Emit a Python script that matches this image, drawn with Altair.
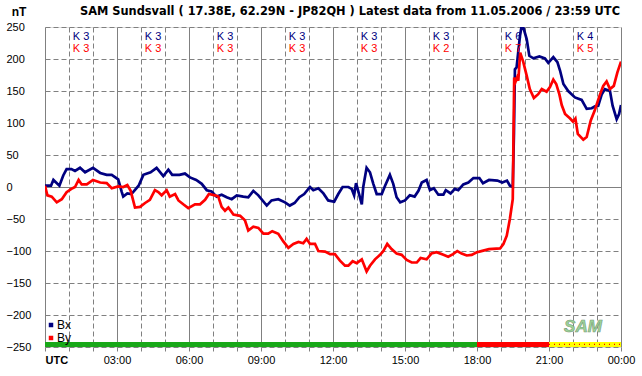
import altair as alt
import pandas as pd

FONT = "Liberation Sans"
TITLE_FONT = "DejaVu Sans"

title_text = "SAM Sundsvall ( 17.38E, 62.29N - JP82QH ) Latest data from 11.05.2006 / 23:59 UTC"
unit_label = "nT"

bx_hours = [0.0, 0.25, 0.35, 0.6, 0.76, 0.9, 1.1, 1.25, 1.46, 1.67, 2.0, 2.3, 2.57, 2.78,
            3.05, 3.2, 3.26, 3.43, 3.6, 3.9, 4.1, 4.4, 4.65, 4.93, 5.14, 5.3, 5.6, 5.83,
            6.04, 6.3, 6.53, 6.74, 6.94, 7.15, 7.36, 7.57, 7.78, 7.99, 8.26, 8.47, 8.68,
            8.89, 9.24, 9.44, 9.72, 10.0, 10.2, 10.4, 10.6, 10.8, 11.04, 11.18, 11.39,
            11.6, 11.8, 12.05, 12.22, 12.4, 12.64, 12.78, 12.88, 12.96, 13.05, 13.2,
            13.26, 13.4, 13.54, 13.68, 13.82, 14.03, 14.17, 14.37, 14.51, 14.65, 14.8,
            15.0, 15.2, 15.4, 15.56, 15.7, 15.9, 16.04, 16.2, 16.39, 16.6, 16.7, 16.9,
            17.08, 17.22, 17.43, 17.64, 17.85, 18.1, 18.25, 18.5, 18.85, 19.05, 19.25,
            19.37, 19.49, 19.54, 19.58, 19.65, 19.79, 19.88, 20.07, 20.18, 20.35, 20.6,
            20.83, 20.97, 21.18, 21.35, 21.46, 21.6, 21.8, 22.08, 22.36, 22.57, 22.78,
            22.92, 23.05, 23.2, 23.33, 23.54, 23.65, 23.82, 23.92, 24.0]
bx_values = [2, 2, 11, 2, 18, 28, 28, 25, 30, 23, 30, 22, 19, 19,
             12, -8, -15, -10, -11, 2, 19, 23, 30, 17, 27, 19, 19, 21,
             15, 11, 5, -5, -7, -15, -12, -16, -19, -13, -15, -16, -6,
             -13, -29, -21, -19, -24, -29, -25, -16, -11, 0, -5, -2,
             -10, -21, -23, -11, 0, 0, -3, -13, 6, -6, -27,
             0, 30, 23, 5, -11, -11, 2, 19, 5, -16, -24,
             -21, -13, -15, -6, 7, 11, -5, -2, -12, -12, -5, -10,
             -3, -5, 4, 7, 14, 14, 6, 11, 10, 7, 10,
             2, 0, 85, 184, 187, 236, 256, 231, 205, 201, 204,
             201, 194, 203, 195, 182, 161, 150, 140, 136, 122, 123,
             126, 127, 145, 153, 150, 127, 106, 114, 128]

by_hours = [0.0, 0.1, 0.28, 0.49, 0.7, 0.9, 1.1, 1.25, 1.4, 1.53, 1.74, 2.0, 2.3, 2.57,
            2.78, 3.05, 3.26, 3.43, 3.57, 3.75, 3.96, 4.17, 4.37, 4.58, 4.72, 4.86,
            5.07, 5.2, 5.42, 5.56, 5.76, 5.97, 6.25, 6.46, 6.67, 6.83, 7.08, 7.22,
            7.36, 7.5, 7.64, 7.85, 8.13, 8.33, 8.47, 8.68, 8.89, 9.1, 9.3, 9.47, 9.72,
            9.93, 10.14, 10.35, 10.56, 10.76, 10.9, 11.04, 11.25, 11.39, 11.67, 11.88,
            12.08, 12.29, 12.5, 12.64, 12.82, 12.99, 13.2, 13.4, 13.54, 13.75, 13.96,
            14.1, 14.26, 14.44, 14.65, 14.86, 15.07, 15.28, 15.49, 15.65, 15.9, 16.1,
            16.32, 16.6, 16.8, 17.0, 17.18, 17.36, 17.57, 17.78, 17.99, 18.1, 18.5,
            18.96, 19.1, 19.24, 19.37, 19.49, 19.51, 19.55, 19.6, 19.67, 19.72, 19.8,
            19.93, 20.07, 20.2, 20.37, 20.55, 20.7, 20.9, 21.04, 21.18, 21.3, 21.43,
            21.53, 21.67, 21.88, 22.0, 22.1, 22.2, 22.43, 22.57, 22.74, 22.9, 23.1,
            23.26, 23.4, 23.54, 23.7, 23.85, 24.0]
by_values = [2, -13, -15, -24, -19, -8, -3, 0, 11, 4, 4, 11, 7, 6,
             -2, 1, 0, 3, -6, -32, -31, -25, -20, -5, -8, -13,
             -5, -15, -11, -21, -27, -33, -27, -27, -20, -11, -13, -15,
             -31, -37, -32, -43, -45, -52, -68, -62, -64, -73, -73, -69, -73,
             -85, -95, -89, -86, -88, -81, -89, -89, -100, -101, -105,
             -105, -115, -123, -123, -116, -119, -113, -132, -123, -113, -106,
             -100, -89, -97, -104, -106, -114, -118, -118, -111, -113, -104,
             -102, -106, -109, -105, -100, -104, -107, -106, -102, -101, -97,
             -96, -89, -76, -50, -19, 44, 171, 164, 171, 166, 210,
             195, 174, 153, 139, 145, 153, 149, 156, 168, 161, 145,
             128, 114, 107, 102, 107, 83, 74, 78, 104, 119, 142,
             158, 165, 153, 158, 179, 196]

series_names = ["Bx", "By"]
series_colors = ["#000080", "#ff0000"]

k_centers = [1.5, 4.5, 7.5, 10.5, 13.5, 16.5, 19.5, 22.5]
k_bx = [3, 3, 3, 3, 3, 3, 6, 4]
k_by = [3, 3, 3, 3, 3, 2, 7, 5]

status_start = [0, 18, 21]
status_end = [18, 21, 24]
status_fill = ["#18a818", "#ff0000", "#ffff00"]

lines_df = pd.concat([
    pd.DataFrame({"hour": bx_hours, "value": bx_values, "series": "Bx", "order": 0}),
    pd.DataFrame({"hour": by_hours, "value": by_values, "series": "By", "order": 1}),
], ignore_index=True)

k_df = pd.DataFrame({
    "hour": k_centers,
    "kx": ["K " + str(v) for v in k_bx],
    "ky": ["K " + str(v) for v in k_by],
})

status_df = pd.DataFrame({"start": status_start, "end": status_end, "fill": status_fill,
                          "low": -250, "high": -242})

x_scale = alt.Scale(domain=[0, 24], nice=False, zero=False)
y_scale = alt.Scale(domain=[-250, 250], nice=False, zero=False)

x_axis = alt.Axis(
    values=list(range(25)),
    title=None,
    labelExpr="datum.value == 0 ? 'UTC' : (datum.value % 3 == 0 ? (datum.value == 24 ? '00:00' : (datum.value < 10 ? '0' : '') + datum.value + ':00') : '')",
    labelFont=FONT, labelFontSize=11, labelColor="#000000",
    labelFontWeight={"condition": {"test": "datum.value == 0", "value": "bold"}, "value": "normal"},
    labelAlign={"condition": {"test": "datum.value == 0", "value": "left"}, "value": "center"},
    labelOverlap=False, labelFlush=False, labelPadding=3,
    domain=False, ticks=True, tickSize=4, tickColor="#808080",
    grid=True, gridColor="#808080", gridWidth=1, gridOpacity=1,
    gridDash={"condition": {"test": "datum.value % 3 == 0", "value": []}, "value": [5, 3]},
)
y_axis = alt.Axis(
    values=list(range(-250, 251, 50)),
    title=None,
    labelFont=FONT, labelFontSize=11, labelColor="#000000",
    labelAlign="left", labelPadding=39, labelBaseline="middle",
    labelOverlap=False, labelFlush=False,
    domain=False, ticks=False,
    grid=True, gridColor="#808080", gridWidth=1, gridOpacity=1,
    gridDash={"condition": {"test": "datum.value == 0", "value": []}, "value": [5, 3]},
)


def xq(field):
    return alt.X(field, scale=x_scale, axis=x_axis)


def yq(field):
    return alt.Y(field, scale=y_scale, axis=y_axis)


status_bar = alt.Chart(status_df).mark_rect().encode(
    x=xq("start:Q"),
    x2="end:Q",
    y=yq("low:Q"),
    y2="high:Q",
    fill=alt.Fill("fill:N", scale=None),
)

yellow_dots = alt.Chart(status_df).transform_filter(
    "datum.fill == '#ffff00'"
).transform_calculate(mid="(datum.low + datum.high) / 2").mark_rule(
    color="#ff0000", strokeDash=[1, 4], strokeWidth=1.2
).encode(
    x=xq("start:Q"),
    x2="end:Q",
    y=yq("mid:Q"),
)

lines = alt.Chart(lines_df).mark_line(strokeWidth=2.7, clip=True).encode(
    x=xq("hour:Q"),
    y=yq("value:Q"),
    color=alt.Color(
        "series:N",
        scale=alt.Scale(domain=series_names, range=series_colors),
        legend=alt.Legend(
            title=None, orient="none", legendX=0, legendY=292,
            symbolType="square", symbolSize=4, symbolStrokeWidth=2.5,
            labelFont=FONT, labelFontSize=12, labelColor="#000000",
            labelOffset=0, rowPadding=1, padding=0,
        ),
    ),
    order="order:Q",
    detail="series:N",
)

k_top = alt.Chart(k_df).mark_text(font=FONT, fontSize=11, color="#000080").encode(
    x=xq("hour:Q"),
    y=alt.value(9.5),
    text="kx:N",
)
k_bottom = alt.Chart(k_df).mark_text(font=FONT, fontSize=11, color="#ff0000").encode(
    x=xq("hour:Q"),
    y=alt.value(22),
    text="ky:N",
)

header_df = pd.DataFrame({"unit": [unit_label], "title": [title_text]})
unit_text = alt.Chart(header_df).mark_text(
    font=FONT, fontSize=12, fontWeight="bold", color="#000000"
).encode(x=alt.value(-26), y=alt.value(-15), text="unit:N")

title_mark = alt.Chart(header_df).mark_text(
    font=TITLE_FONT, fontSize=11.4, fontWeight="bold", color="#000000", align="right"
).encode(x=alt.value(575), y=alt.value(-15), text="title:N")

logo_df = pd.DataFrame({"label": ["SAM"]})
logo = alt.Chart(logo_df).mark_text(
    font=FONT, fontSize=17, fontWeight="bold", fontStyle="italic",
    color="#9ed69a", stroke="#7a9a78", strokeWidth=0.6
).encode(x=alt.value(538), y=alt.value(300), text="label:N")

chart = alt.layer(
    status_bar, yellow_dots, logo, lines, k_top, k_bottom, unit_text, title_mark
).properties(
    width=576,
    height=320,
    autosize=alt.AutoSizeParams(type="none"),
    padding={"left": 45, "top": 27, "right": 21, "bottom": 29},
).configure_view(
    stroke="#808080", strokeWidth=1
).configure(
    background="#ffffff"
)

chart.save("out.html", embed_options={"renderer": "svg", "actions": False})
